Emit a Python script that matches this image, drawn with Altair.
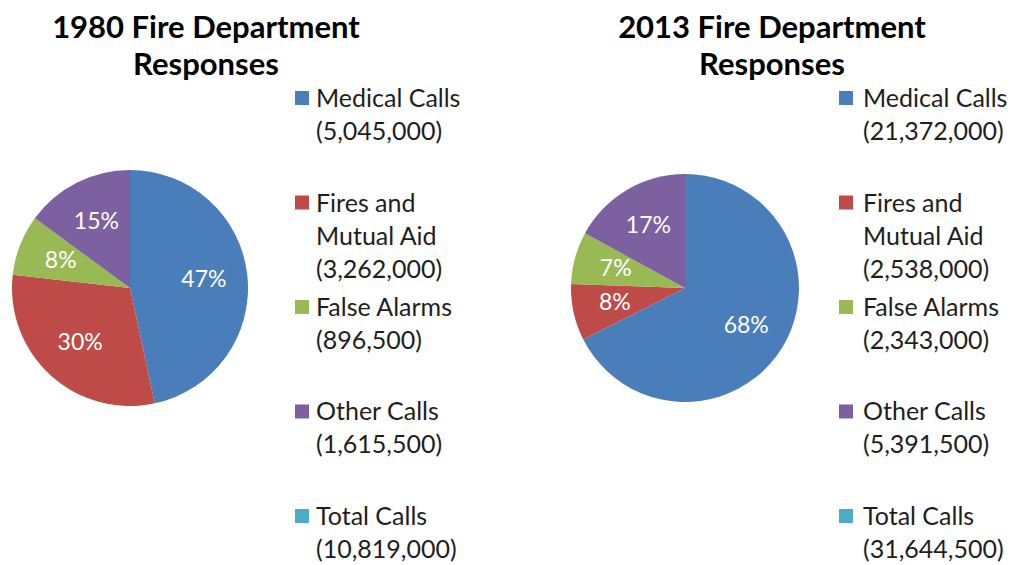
import altair as alt
import pandas as pd

# ---- data ----
categories = ["Medical Calls", "Fires and Mutual Aid", "False Alarms", "Other Calls", "Total Calls"]
legend_names = ["Medical Calls", "Fires and\nMutual Aid", "False Alarms", "Other Calls", "Total Calls"]
colors = ["#4A7EBB", "#BE4B48", "#98B954", "#7D60A0", "#4BACC6"]

pie_categories = ["Medical Calls", "Fires and Mutual Aid", "False Alarms", "Other Calls"]
values_1980 = [5045000, 3262000, 896500, 1615500]
values_2013 = [21372000, 2538000, 2343000, 5391500]
total_1980 = 10819000
total_2013 = 31644500

titles = {
    "1980": ["1980 Fire Department", "Responses"],
    "2013": ["2013 Fire Department", "Responses"],
}

FONT = "Lato"
color_scale = alt.Scale(domain=categories, range=colors)


def pie_df(values):
    tot = sum(values)
    return pd.DataFrame({
        "category": pie_categories,
        "idx": list(range(len(values))),
        "value": values,
        "pct": [f"{round(v / tot * 100)}%" for v in values],
    })


def legend_df(values, total):
    vals = list(values) + [total]
    return pd.DataFrame({
        "category": categories,
        "label": [f"{n}\n({v:,})" for n, v in zip(legend_names, vals)],
    })


def title(lines, dx):
    return alt.TitleParams(text=lines, fontSize=31, font=FONT, fontWeight="bold",
                           color="black", lineHeight=37, anchor="middle",
                           frame="group", dx=dx, offset=4)


def pie(values, w, h, r, ttl, tdx):
    base = alt.Chart(pie_df(values)).encode(
        theta=alt.Theta("value:Q", stack=True),
        order=alt.Order("idx:Q"),
    )
    arcs = base.mark_arc(outerRadius=r).encode(
        color=alt.Color("category:N", scale=color_scale, legend=None)
    )
    txt = base.mark_text(radius=r * 0.63, fontSize=23, font=FONT, color="white").encode(
        text="pct:N"
    )
    return (arcs + txt).properties(width=w, height=h, title=title(ttl, tdx))


def legend(values, total, dx):
    base = alt.Chart(legend_df(values, total)).encode(
        y=alt.Y("category:N", sort=categories,
                scale=alt.Scale(type="point", padding=0.115), axis=None)
    )
    sq = base.mark_square(size=196, opacity=1).encode(
        color=alt.Color("category:N", scale=color_scale, legend=None)
    )
    tx = base.mark_text(align="left", baseline="alphabetic", dx=dx, dy=9,
                        lineBreak="\n", lineHeight=33, fontSize=25, font=FONT,
                        color="#1e1e1e").encode(text="label:N")
    return (sq + tx).properties(width=16, height=442)


g1 = alt.hconcat(pie(values_1980, 240, 404, 118, titles["1980"], 76),
                 legend(values_1980, total_1980, 14),
                 spacing=44, bounds="flush")
g2 = alt.hconcat(pie(values_2013, 236, 404, 114, titles["2013"], 87),
                 legend(values_2013, total_2013, 17),
                 spacing=35, bounds="flush")

chart = alt.hconcat(g1, g2, spacing=106).properties(
    padding={"left": 10, "top": 13, "right": 0, "bottom": 0},
    background="white",
).configure_view(stroke=None)

chart.save("out.html", embed_options={"renderer": "svg", "actions": False})
